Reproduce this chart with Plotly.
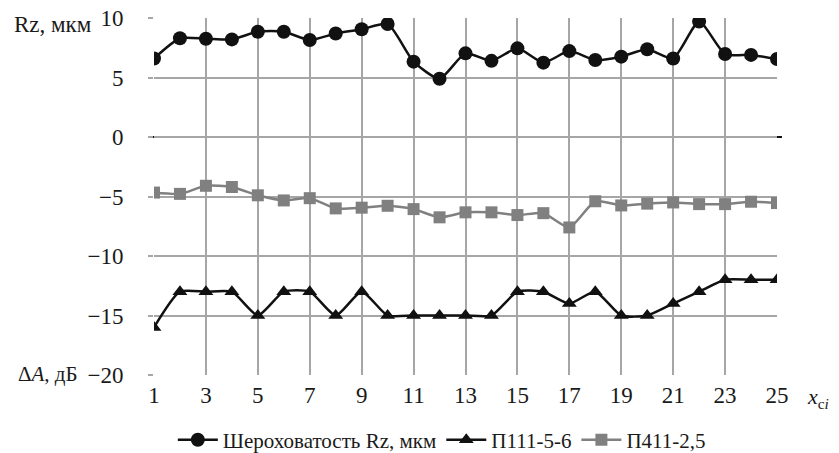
import plotly.graph_objects as go

x_vals = list(range(1, 26))
rz = [6.6, 8.3, 8.26, 8.2, 8.85, 8.85, 8.15, 8.7, 9.05, 9.5, 6.33, 4.9, 7.03, 6.4, 7.45,
      6.25, 7.22, 6.47, 6.75, 7.37, 6.6, 9.7, 6.97, 6.9, 6.55]
p111 = [-16, -13, -13, -13, -15, -13, -13, -15, -13, -15, -15, -15, -15, -15, -13,
        -13, -14, -13, -15, -15, -14, -13, -12, -12, -12]
p411 = [-4.67, -4.78, -4.1, -4.2, -4.9, -5.33, -5.14, -6.0, -5.94, -5.78, -6.06, -6.75,
        -6.33, -6.33, -6.56, -6.4, -7.6, -5.4, -5.75, -5.6, -5.5, -5.64, -5.64, -5.44, -5.55]

x_ticks = list(range(1, 26, 2))
y_ticks = [-20, -15, -10, -5, 0, 5, 10]

FONT = "Liberation Serif, Times New Roman, serif"
GRID = "#a6a6a6"
TXT = "#1a1a1a"

fig = go.Figure()
fig.add_trace(go.Scatter(
    x=x_vals, y=rz, name="Шероховатость Rz, мкм", mode="lines+markers",
    line=dict(color="#111111", width=2.5, shape="spline", smoothing=0.6),
    marker=dict(symbol="circle", size=14, color="#111111")))
fig.add_trace(go.Scatter(
    x=x_vals, y=p111, name="П111-5-6", mode="lines+markers",
    line=dict(color="#111111", width=2.5, shape="spline", smoothing=0.6),
    marker=dict(symbol="triangle-up", size=13, color="#111111")))
fig.add_trace(go.Scatter(
    x=x_vals, y=p411, name="П411-2,5", mode="lines+markers",
    line=dict(color="#808080", width=2.5, shape="spline", smoothing=0.6),
    marker=dict(symbol="square", size=12, color="#808080")))

# zero line (black, slightly longer than the plot area)
fig.add_shape(type="line", xref="paper", yref="y", x0=-0.008, x1=1.008, y0=0, y1=0,
              line=dict(color="#111111", width=2), layer="below")

fig.add_annotation(text="Rz, мкм", xref="paper", yref="y", x=-0.228, y=10,
                   xanchor="left", yanchor="middle", yshift=-6, showarrow=False,
                   font=dict(family=FONT, size=23, color=TXT))
fig.add_annotation(text="Δ<i>A</i>, дБ", xref="paper", yref="y", x=-0.222, y=-20,
                   xanchor="left", yanchor="middle", yshift=1, showarrow=False,
                   font=dict(family=FONT, size=21, color=TXT))
fig.add_annotation(text="<i>x</i><sub>c<i>i</i></sub>", xref="paper", yref="y", x=1.087, y=-20,
                   xanchor="right", yanchor="middle", yshift=-23, showarrow=False,
                   font=dict(family=FONT, size=22, color=TXT))

fig.update_layout(
    width=831, height=445,
    margin=dict(l=146, r=62, t=10, b=78, autoexpand=False),
    paper_bgcolor="white", plot_bgcolor="white",
    font=dict(family=FONT, size=22, color=TXT),
    showlegend=True,
    legend=dict(orientation="h", x=0.462, xanchor="center", yref="container",
                y=0.029, yanchor="middle",
                font=dict(family=FONT, size=21, color=TXT), itemwidth=40,
                tracegroupgap=0),
)
fig.update_xaxes(range=[1, 25], tickvals=x_ticks, showgrid=True, gridcolor=GRID, gridwidth=1.5,
                 zeroline=False, showline=False, ticks="", ticklabelstandoff=4,
                 automargin=False, tickfont=dict(size=23), ticklabeloverflow="allow")
fig.update_yaxes(range=[-20, 10], tickvals=y_ticks, showgrid=True, gridcolor=GRID, gridwidth=1.5,
                 zeroline=False, showline=False, ticks="outside", ticklen=5, tickcolor=GRID,
                 tickwidth=1.5, ticklabelstandoff=20, automargin=False, tickfont=dict(size=23),
                 ticklabeloverflow="allow")

fig.write_html("out.html")
